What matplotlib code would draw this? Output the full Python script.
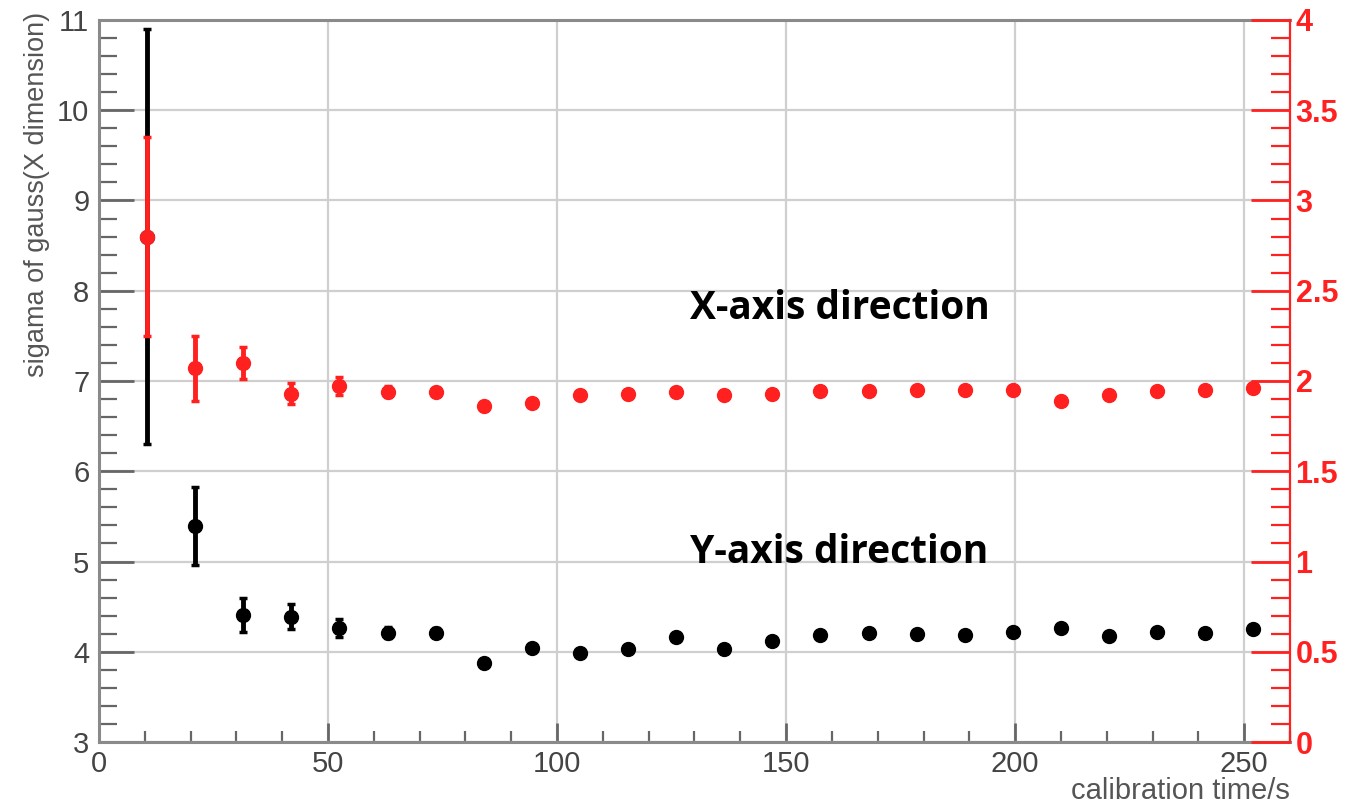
import matplotlib

matplotlib.use("Agg")
import matplotlib.pyplot as plt
from matplotlib.ticker import MultipleLocator

# calibration time (s)
times = [10.5, 21, 31.5, 42, 52.5, 63, 73.5, 84, 94.5, 105, 115.5, 126,
         136.5, 147, 157.5, 168, 178.5, 189, 199.5, 210, 220.5, 231, 241.5, 252]

# Y-axis direction, left scale
sigma_y = [8.6, 5.39, 4.41, 4.39, 4.26, 4.21, 4.21, 3.88, 4.04, 3.99, 4.03, 4.16,
           4.03, 4.12, 4.19, 4.21, 4.20, 4.19, 4.22, 4.26, 4.17, 4.22, 4.21, 4.25]
sigma_y_err = [2.3, 0.43, 0.19, 0.14, 0.10, 0.06, 0.05, 0.04, 0.04, 0.04, 0.04, 0.04,
               0.04, 0.04, 0.04, 0.04, 0.04, 0.04, 0.04, 0.04, 0.04, 0.04, 0.04, 0.04]

# X-axis direction, right scale
sigma_x = [2.80, 2.07, 2.10, 1.93, 1.97, 1.94, 1.94, 1.86, 1.88, 1.92, 1.93, 1.94,
           1.92, 1.93, 1.945, 1.945, 1.95, 1.95, 1.95, 1.89, 1.92, 1.945, 1.95, 1.96]
sigma_x_err = [0.55, 0.18, 0.09, 0.06, 0.05, 0.03, 0.02, 0.02, 0.02, 0.02, 0.02, 0.02,
               0.02, 0.02, 0.02, 0.02, 0.02, 0.02, 0.02, 0.02, 0.02, 0.02, 0.02, 0.02]

GRAY = "#666666"
RED = "#ff2020"

plt.rcParams["font.family"] = ["Liberation Sans", "DejaVu Sans"]

fig = plt.figure(figsize=(13.6, 8.09), dpi=100)
ax = fig.add_axes([0.0728, 0.0828, 0.9485 - 0.0728, 0.9753 - 0.0828])
ax2 = ax.twinx()

ax.set_xlim(0, 260)
ax.set_ylim(3, 11)
ax2.set_ylim(0, 4)

ax.grid(True, color="#cfcfcf", linewidth=1.6)
ax.set_axisbelow(True)

ax.errorbar(times, sigma_y, yerr=sigma_y_err, fmt="o", color="black",
            markersize=10, elinewidth=3.5, capsize=3, capthick=2.5, zorder=3)
ax2.errorbar(times, sigma_x, yerr=sigma_x_err, fmt="o", color=RED,
             markersize=10, elinewidth=3.5, capsize=3, capthick=2.5, zorder=3)

# left / bottom axes
ax.xaxis.set_major_locator(MultipleLocator(50))
ax.xaxis.set_minor_locator(MultipleLocator(10))
ax.yaxis.set_major_locator(MultipleLocator(1))
ax.yaxis.set_minor_locator(MultipleLocator(0.2))
ax.tick_params(axis="y", which="major", direction="in", length=25, width=2,
               color=GRAY, labelcolor="#444444", labelsize=21, pad=7)
ax.tick_params(axis="y", which="minor", direction="in", length=13, width=1.6, color=GRAY)
ax.tick_params(axis="x", which="major", direction="in", length=14, width=2,
               color=GRAY, labelcolor="#444444", labelsize=21, pad=6)
ax.tick_params(axis="x", which="minor", direction="in", length=8, width=1.6, color=GRAY)
for side in ["left", "bottom", "top"]:
    ax.spines[side].set_color("#8a8a8a")
    ax.spines[side].set_linewidth(2.2)
ax.spines["right"].set_visible(False)

# right red axis
ax2.yaxis.set_major_locator(MultipleLocator(0.5))
ax2.yaxis.set_minor_locator(MultipleLocator(0.1))
ax2.yaxis.set_major_formatter(plt.FuncFormatter(lambda v, p: f"{v:g}"))
ax2.tick_params(axis="y", which="major", direction="in", length=28, width=2,
                color=RED, labelcolor=RED, labelsize=22, pad=4)
ax2.tick_params(axis="y", which="minor", direction="in", length=14, width=1.6, color=RED)
for lbl in ax2.get_yticklabels():
    lbl.set_fontweight("bold")
for side in ["left", "bottom", "top"]:
    ax2.spines[side].set_visible(False)
ax2.spines["right"].set_color(RED)
ax2.spines["right"].set_linewidth(1.6)

# axis titles, ROOT style
fig.text(0.027, 0.985, "sigama of gauss(X dimension)", rotation=90,
         ha="center", va="top", fontsize=19.5, color="#555555")
fig.text(0.9485, 0.005, "calibration time/s", ha="right", va="bottom",
         fontsize=21, color="#555555")

ax.text(129, 7.8, "X-axis direction", ha="left", va="center",
        fontsize=28, fontweight="bold", family=["Open Sans", "DejaVu Sans"])
ax.text(129, 5.1, "Y-axis direction", ha="left", va="center",
        fontsize=28, fontweight="bold", family=["Open Sans", "DejaVu Sans"])

fig.savefig("out.png", dpi=100)
